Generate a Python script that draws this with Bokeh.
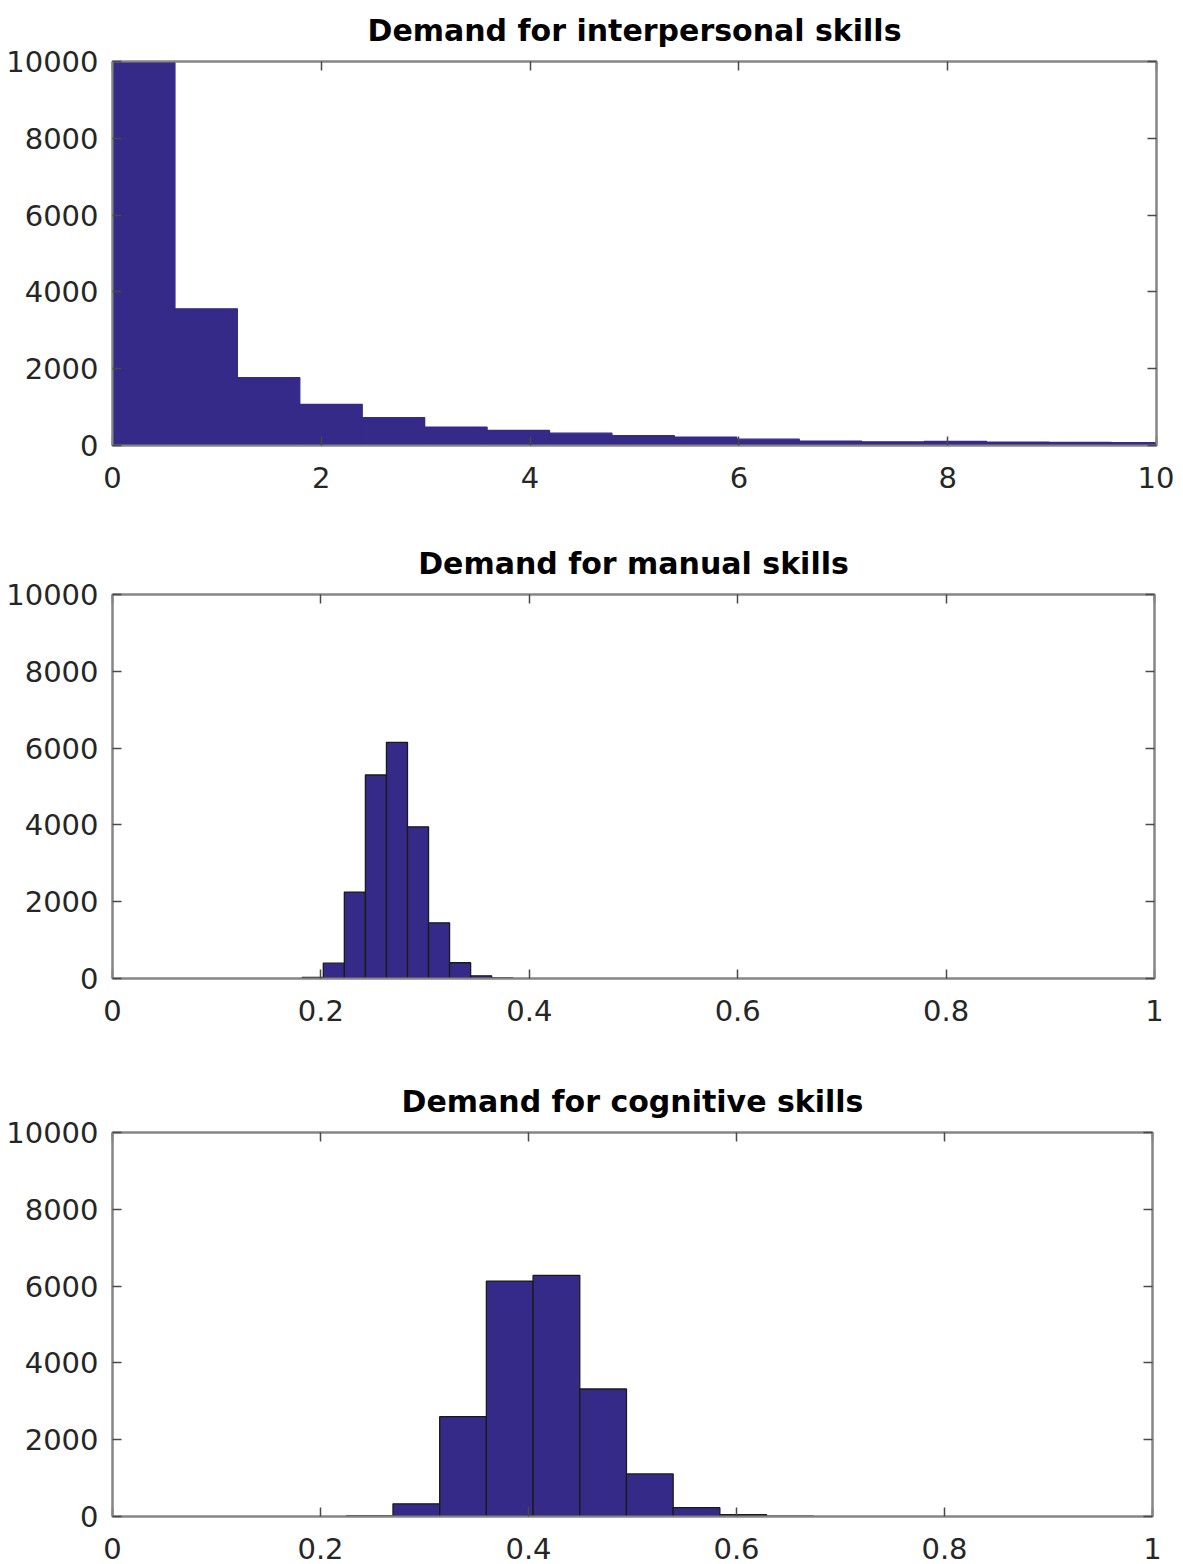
from bokeh.plotting import figure
from bokeh.models import (Range1d, LinearAxis, FixedTicker, NumeralTickFormatter,
                          ColumnDataSource, CustomLabelingPolicy)
from bokeh.layouts import column
from bokeh.embed import file_html
from bokeh.resources import INLINE
import numpy as np

# ---------------- data ----------------
titles = ["Demand for interpersonal skills",
          "Demand for manual skills",
          "Demand for cognitive skills"]

# interpersonal skills histogram (first bin clipped at the axis top)
inter_bin_start = 0.0
inter_bin_width = 0.598
inter_counts = [10000, 3560, 1770, 1070, 725, 475, 390, 320, 255, 215,
                165, 115, 95, 105, 85, 78, 72]

# manual skills histogram
manual_bin_start = 0.1821
manual_bin_width = 0.0202
manual_counts = [30, 400, 2250, 5300, 6150, 3950, 1450, 410, 70, 15]

# cognitive skills histogram
cog_bin_start = 0.2248
cog_bin_width = 0.0449
cog_counts = [15, 330, 2600, 6130, 6280, 3320, 1110, 230, 45, 10]

x_ticks_inter = [0, 2, 4, 6, 8, 10]
x_ticks_unit = [0, 0.2, 0.4, 0.6, 0.8, 1]
y_ticks = [0, 2000, 4000, 6000, 8000, 10000]

# ---------------- style ----------------
BAR = "#352A87"
FRAME = "#858585"
TICK = "#4a4a4a"
LABEL = "#262626"
FONT = "DejaVu Sans"
TICK_SIZE = "29px"
FRAME_W = 1044
FRAME_H = 384

NO_LABELS = CustomLabelingPolicy(code="return new Set()")


def make(title, start, width, counts, xmax, xticks, left_b, top_b, bottom_b, edge):
    counts = np.asarray(counts, dtype=float)
    left = start + width * np.arange(len(counts))
    src = ColumnDataSource(dict(left=left, right=left + width, top=counts))
    p = figure(width=left_b + FRAME_W + 18, height=top_b + FRAME_H + bottom_b,
               x_range=Range1d(0, xmax), y_range=Range1d(0, 10000),
               output_backend="svg", toolbar_location=None,
               min_border_left=left_b, min_border_right=18,
               min_border_top=top_b, min_border_bottom=bottom_b,
               x_axis_type=None, y_axis_type=None, title=title)
    p.quad(left="left", right="right", bottom=0, top="top", source=src,
           fill_color=BAR, line_color=edge, line_width=1.3)
    p.grid.visible = False
    p.outline_line_color = FRAME
    p.outline_line_width = 2
    p.background_fill_color = "white"
    p.border_fill_color = "white"

    def style(ax, labels):
        ax.axis_line_color = FRAME
        ax.axis_line_width = 2
        ax.major_tick_in = 9
        ax.major_tick_out = 0
        ax.major_tick_line_color = TICK
        ax.major_tick_line_width = 1.5
        ax.minor_tick_line_color = None
        ax.major_label_text_font = FONT
        ax.major_label_text_color = LABEL
        ax.formatter = NumeralTickFormatter(format="0.[0]")
        ax.major_label_text_font_size = TICK_SIZE
        if not labels:
            ax.major_label_policy = NO_LABELS
            ax.major_label_text_font_size = "1px"
            ax.major_label_standoff = 0

    xb = LinearAxis(ticker=FixedTicker(ticks=xticks))
    style(xb, True)
    xb.major_label_standoff = 21
    p.add_layout(xb, "below")
    yl = LinearAxis(ticker=FixedTicker(ticks=y_ticks))
    style(yl, True)
    yl.major_label_standoff = 14
    p.add_layout(yl, "left")
    xa = LinearAxis(ticker=FixedTicker(ticks=xticks))
    style(xa, False)
    p.add_layout(xa, "above")
    yr = LinearAxis(ticker=FixedTicker(ticks=y_ticks))
    style(yr, False)
    p.add_layout(yr, "right")

    p.title.text_font = FONT
    p.title.text_font_style = "bold"
    p.title.text_font_size = "30px"
    p.title.text_color = "black"
    p.title.align = "center"
    p.title.standoff = 20
    return p


p1 = make(titles[0], inter_bin_start, inter_bin_width, inter_counts, 10,
          x_ticks_inter, 112, 61, 55, BAR)
p2 = make(titles[1], manual_bin_start, manual_bin_width, manual_counts, 1,
          x_ticks_unit, 110, 94, 55, "#1a1a1a")
p3 = make(titles[2], cog_bin_start, cog_bin_width, cog_counts, 1,
          x_ticks_unit, 108, 99, 50, "#1a1a1a")

layout = column(p1, p2, p3)
open("out.html", "w").write(file_html(layout, INLINE))
